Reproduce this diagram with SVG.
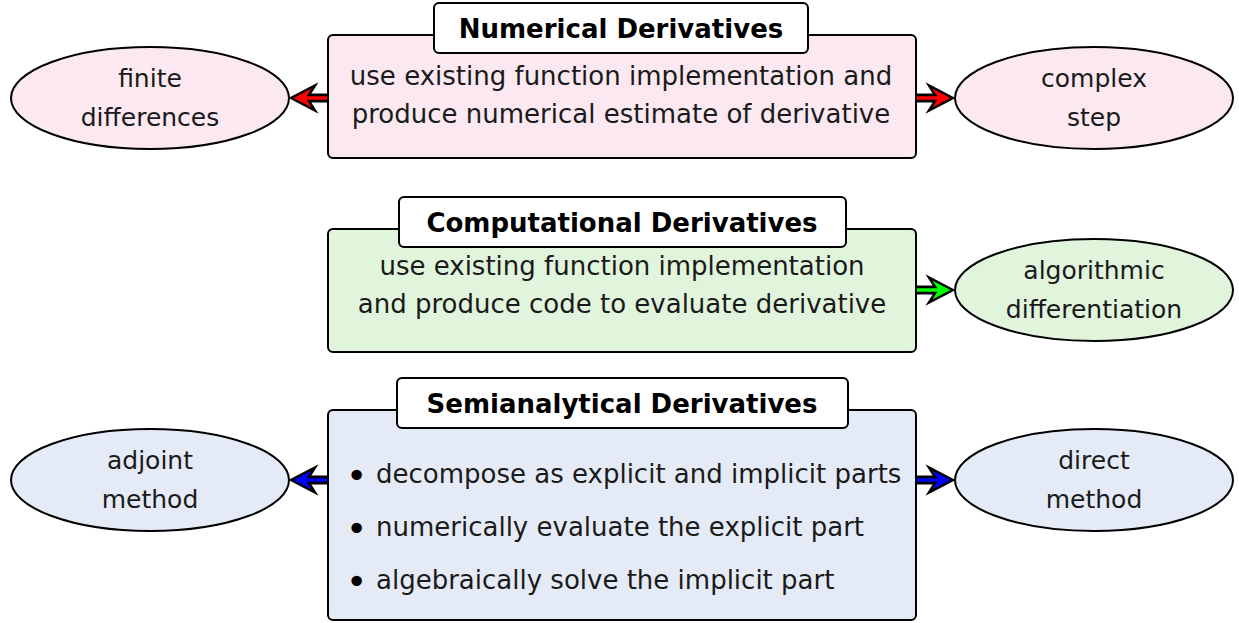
<svg xmlns="http://www.w3.org/2000/svg" width="1239" height="623" viewBox="0 0 1239 623">
<style>
  .box { stroke: #000; stroke-width: 2; }
  .title { fill: #fff; stroke: #000; stroke-width: 2; }
  .ttl { font-family: "DejaVu Sans", sans-serif; font-weight: bold; font-size: 26px; text-anchor: middle; fill: #000; }
  .body { font-family: "DejaVu Sans", sans-serif; font-size: 26px; text-anchor: middle; fill: #1a1a1a; }
  .bul { font-family: "DejaVu Sans", sans-serif; font-size: 26px; fill: #1a1a1a; }
  .dot { font-family: "DejaVu Sans", sans-serif; font-size: 36px; fill: #000; }
  .ell { stroke: #000; stroke-width: 2; }
  .etx { font-family: "DejaVu Sans", sans-serif; font-size: 25px; text-anchor: middle; fill: #1a1a1a; }
  .pink { fill: #fbe8f0; }
  .green { fill: #e1f4dc; }
  .blue { fill: #e5ebf6; }
  .shaft { stroke: #000; stroke-width: 9; }
  .head { stroke: #000; stroke-width: 2.5; stroke-linejoin: miter; }
</style>
<defs>
  <path id="head" d="M0,0 L-24,-12.5 L-16,0 L-24,12.5 Z"/>
</defs>

<g id="connectors">
  <line class="shaft" x1="328" y1="98" x2="305" y2="98"/>
  <use href="#head" class="head" fill="#ff0000" transform="translate(291,98) rotate(180)"/>
  <line x1="327" y1="98" x2="300" y2="98" stroke="#ff0000" stroke-width="3.5"/>

  <line class="shaft" x1="916" y1="98" x2="939" y2="98"/>
  <use href="#head" class="head" fill="#ff0000" transform="translate(953,98)"/>
  <line x1="917" y1="98" x2="944" y2="98" stroke="#ff0000" stroke-width="3.5"/>

  <line class="shaft" x1="916" y1="290" x2="939" y2="290"/>
  <use href="#head" class="head" fill="#00ff00" transform="translate(953,290)"/>
  <line x1="917" y1="290" x2="944" y2="290" stroke="#00ff00" stroke-width="3.5"/>

  <line class="shaft" x1="328" y1="480" x2="305" y2="480"/>
  <use href="#head" class="head" fill="#0000ff" transform="translate(291,480) rotate(180)"/>
  <line x1="327" y1="480" x2="300" y2="480" stroke="#0000ff" stroke-width="3.5"/>

  <line class="shaft" x1="916" y1="480" x2="939" y2="480"/>
  <use href="#head" class="head" fill="#0000ff" transform="translate(953,480)"/>
  <line x1="917" y1="480" x2="944" y2="480" stroke="#0000ff" stroke-width="3.5"/>
</g>

<g id="numerical">
  <rect class="box pink" x="328" y="35" width="588" height="123" rx="5"/>
  <rect class="title" x="434" y="3" width="374" height="50" rx="5"/>
  <text class="ttl" x="621" y="38">Numerical Derivatives</text>
  <text class="body" x="621" y="85">use existing function implementation and</text>
  <text class="body" x="621" y="123">produce numerical estimate of derivative</text>
</g>

<g id="finite-differences">
  <ellipse class="ell pink" cx="150" cy="98" rx="139" ry="51"/>
  <text class="etx" x="150" y="87">finite</text>
  <text class="etx" x="150" y="126">differences</text>
</g>

<g id="complex-step">
  <ellipse class="ell pink" cx="1094" cy="98" rx="139" ry="51"/>
  <text class="etx" x="1094" y="87">complex</text>
  <text class="etx" x="1094" y="126">step</text>
</g>

<g id="computational">
  <rect class="box green" x="328" y="229" width="588" height="123" rx="5"/>
  <rect class="title" x="399" y="197" width="447" height="50" rx="5"/>
  <text class="ttl" x="622" y="232">Computational Derivatives</text>
  <text class="body" x="622" y="275">use existing function implementation</text>
  <text class="body" x="622" y="313">and produce code to evaluate derivative</text>
</g>

<g id="algorithmic-differentiation">
  <ellipse class="ell green" cx="1094" cy="290" rx="139" ry="51"/>
  <text class="etx" x="1094" y="279">algorithmic</text>
  <text class="etx" x="1094" y="318">differentiation</text>
</g>

<g id="semianalytical">
  <rect class="box blue" x="328" y="410" width="588" height="210" rx="5"/>
  <rect class="title" x="397" y="378" width="451" height="50" rx="5"/>
  <text class="ttl" x="622" y="413">Semianalytical Derivatives</text>
  <text class="dot" x="346" y="488">•</text>
  <text class="bul" x="376" y="483">decompose as explicit and implicit parts</text>
  <text class="dot" x="346" y="541">•</text>
  <text class="bul" x="376" y="536">numerically evaluate the explicit part</text>
  <text class="dot" x="346" y="594">•</text>
  <text class="bul" x="376" y="589">algebraically solve the implicit part</text>
</g>

<g id="adjoint-method">
  <ellipse class="ell blue" cx="150" cy="480" rx="139" ry="51"/>
  <text class="etx" x="150" y="469">adjoint</text>
  <text class="etx" x="150" y="508">method</text>
</g>

<g id="direct-method">
  <ellipse class="ell blue" cx="1094" cy="480" rx="139" ry="51"/>
  <text class="etx" x="1094" y="469">direct</text>
  <text class="etx" x="1094" y="508">method</text>
</g>
</svg>
